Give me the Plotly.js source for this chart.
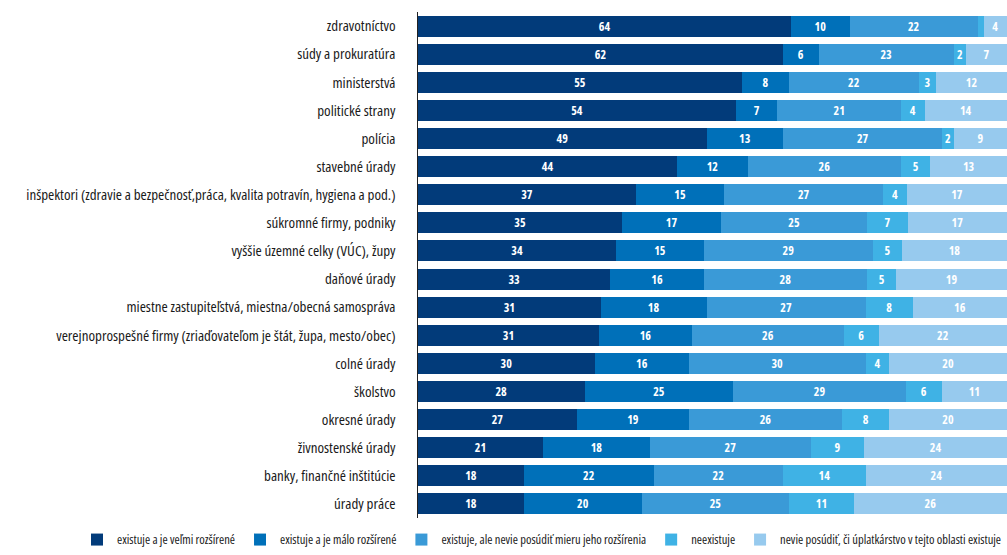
<!DOCTYPE html>
<html>
<head>
<meta charset="utf-8">
<script src="https://cdn.plot.ly/plotly-3.0.1.min.js"></script>
<style>
html,body{margin:0;padding:0;background:#fff;}
#chart{width:1007px;height:555px;}
text{font-stretch:condensed !important;}
</style>
</head>
<body>
<div id="chart"></div>
<script>
const categories = [
  "zdravotníctvo",
  "súdy a prokuratúra",
  "ministerstvá",
  "politické strany",
  "polícia",
  "stavebné úrady",
  "inšpektori (zdravie a bezpečnosť,práca, kvalita potravín, hygiena a pod.)",
  "súkromné firmy, podniky",
  "vyššie územné celky (VÚC), župy",
  "daňové úrady",
  "miestne zastupiteľstvá, miestna/obecná samospráva",
  "verejnoprospešné firmy (zriaďovateľom je štát, župa, mesto/obec)",
  "colné úrady",
  "školstvo",
  "okresné úrady",
  "živnostenské úrady",
  "banky, finančné inštitúcie",
  "úrady práce"
];
const seriesNames = [
  "existuje a je veľmi rozšírené",
  "existuje a je málo rozšírené",
  "existuje, ale nevie posúdiť mieru jeho rozšírenia",
  "neexistuje",
  "nevie posúdiť, či úplatkárstvo v tejto oblasti existuje"
];
const veryWidespread = [64,62,55,54,49,44,37,35,34,33,31,31,30,28,27,21,18,18];
const littleWidespread = [10,6,8,7,13,12,15,17,15,16,18,16,16,25,19,18,22,20];
const cannotJudgeExtent = [22,23,22,21,27,26,27,25,29,28,27,26,30,29,26,27,22,25];
const notExist = [1,2,3,4,2,5,4,7,5,5,8,6,4,6,8,9,14,11];
const cannotJudge = [4,7,12,14,9,13,17,17,18,19,16,22,20,11,20,24,24,26];
const hiddenLabels = {0: [3]}; // tiny unlabeled segment (zdravotníctvo, neexistuje)

const allSeries = [veryWidespread, littleWidespread, cannotJudgeExtent, notExist, cannotJudge];
const colors = ["#023b7a", "#0070b9", "#3a9ad7", "#3fb2e5", "#97caee"];
const FONT = "'Open Sans', sans-serif";

const traces = allSeries.map((vals, si) => ({
  type: "bar",
  orientation: "h",
  name: seriesNames[si],
  y: categories,
  x: vals,
  text: vals.map((v, i) => (hiddenLabels[i] && hiddenLabels[i].includes(si)) ? "" : String(v)),
  textposition: "inside",
  insidetextanchor: "middle",
  textangle: 0,
  constraintext: "none",
  textfont: {color: "#ffffff", size: 12, family: FONT, weight: "bold"},
  marker: {color: colors[si], line: {width: 0}},
  hoverinfo: "name+x+y"
}));

const layout = {
  width: 1007,
  height: 555,
  barmode: "stack",
  barnorm: "percent",
  bargap: 0.25,
  margin: {l: 418, r: 0, t: 12, b: 37},
  paper_bgcolor: "#ffffff",
  plot_bgcolor: "#ffffff",
  font: {family: FONT, size: 15, color: "#1a1a1a"},
  uniformtext: {mode: "show", minsize: 12},
  xaxis: {range: [0, 100], visible: false, fixedrange: true},
  yaxis: {
    autorange: "reversed",
    showline: true,
    linecolor: "#222222",
    linewidth: 1.5,
    ticks: "",
    showgrid: false,
    ticklabelstandoff: 18,
    tickfont: {family: FONT, size: 15, color: "#1a1a1a"}
  },
  showlegend: true,
  legend: {
    orientation: "h",
    x: -0.53,
    xanchor: "left",
    y: -0.073,
    yanchor: "bottom",
    traceorder: "normal",
    font: {family: FONT, size: 12.5, color: "#1a1a1a"},
    itemwidth: 30,
    tracegroupgap: 0
  }
};

Plotly.newPlot("chart", traces, layout, {displayModeBar: false, staticPlot: true});
</script>
</body>
</html>
